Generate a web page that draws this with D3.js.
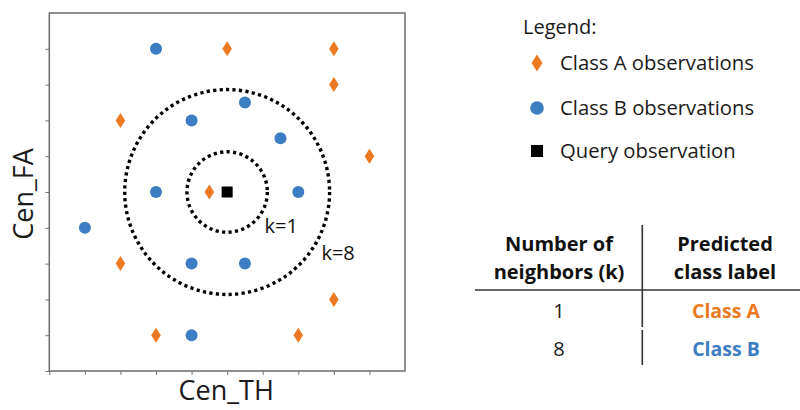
<!DOCTYPE html>
<html>
<head>
<meta charset="utf-8">
<script src="https://cdn.jsdelivr.net/npm/d3@7"></script>
<style>
  html, body { margin: 0; padding: 0; background: #fff; }
  svg { display: block; font-family: "Open Sans", sans-serif; }
</style>
</head>
<body>
<svg id="chart" width="800" height="410"></svg>
<script>
// Class A observations (orange diamonds)
const classAX = [5, 8, 8, 2, 9, 4.5, 2, 8, 3, 7];
const classAY = [9, 9, 8, 7, 6, 5, 3, 2, 1, 1];
// Class B observations (blue circles)
const classBX = [3, 5.5, 4, 6.5, 3, 7, 1, 4, 5.5, 4];
const classBY = [9, 7.5, 7, 6.5, 5, 5, 4, 3, 3, 1];
// Query observation
const queryX = [5];
const queryY = [5];
// Neighbourhood radii (data units) and their labels
const neighborK = [1, 8];
const neighborRadius = [1.13, 2.88];
const neighborLabels = ["k=1", "k=8"];
// Axis ticks
const tickValues = [0, 1, 2, 3, 4, 5, 6, 7, 8, 9];
// Legend and result table
const legendLabels = ["Class A observations", "Class B observations", "Query observation"];
const tableHeaders = [["Number of", "neighbors (k)"], ["Predicted", "class label"]];
const tableK = ["1", "8"];
const tablePredicted = ["Class A", "Class B"];

const orange = "#ec7a22";
const blue = "#3d7dc2";

const svg = d3.select("#chart");
const plot = { left: 49.3, top: 13, right: 405, bottom: 371 };

const x = d3.scaleLinear().domain([0, 10]).range([plot.left, plot.right]);
const y = d3.scaleLinear().domain([0, 10]).range([plot.bottom, plot.top]);

// Axes (ticks only, no labels)
const xAxis = d3.axisBottom(x).tickValues(tickValues).tickSize(4).tickFormat("");
const yAxis = d3.axisLeft(y).tickValues(tickValues).tickSize(4).tickFormat("");

const gx = svg.append("g").attr("transform", `translate(0,${plot.bottom})`).call(xAxis);
const gy = svg.append("g").attr("transform", `translate(${plot.left},0)`).call(yAxis);
[gx, gy].forEach(g => {
  g.select(".domain").remove();
  g.selectAll(".tick line").attr("stroke", "#777").attr("stroke-width", 1);
});

// Plot frame
svg.append("rect")
  .attr("x", plot.left).attr("y", plot.top)
  .attr("width", plot.right - plot.left).attr("height", plot.bottom - plot.top)
  .attr("fill", "none").attr("stroke", "#6b6b6b").attr("stroke-width", 1.5);

// Dotted neighbourhood circles around the query
const rUnit = x(1) - x(0);
svg.selectAll("circle.hood")
  .data(neighborRadius)
  .join("circle")
  .attr("class", "hood")
  .attr("cx", x(queryX[0]))
  .attr("cy", y(queryY[0]))
  .attr("r", d => d * rUnit)
  .attr("fill", "none")
  .attr("stroke", "#000")
  .attr("stroke-width", 3.4)
  .attr("stroke-dasharray", "3.2,3.3");

// Circle labels
const labelPos = [[6.05, 3.85], [7.65, 3.1]];
svg.selectAll("text.klabel")
  .data(neighborLabels)
  .join("text")
  .attr("class", "klabel")
  .attr("x", (d, i) => x(labelPos[i][0]))
  .attr("y", (d, i) => y(labelPos[i][1]))
  .attr("font-size", 20)
  .attr("fill", "#111")
  .text(d => d);

// Diamond path
const diamond = (w, h) => `M0,${-h / 2}L${w / 2},0L0,${h / 2}L${-w / 2},0Z`;

// Class B circles
svg.selectAll("circle.b")
  .data(classBX.map((v, i) => [v, classBY[i]]))
  .join("circle")
  .attr("class", "b")
  .attr("cx", d => x(d[0]))
  .attr("cy", d => y(d[1]))
  .attr("r", 6)
  .attr("fill", blue);

// Class A diamonds
svg.selectAll("path.a")
  .data(classAX.map((v, i) => [v, classAY[i]]))
  .join("path")
  .attr("class", "a")
  .attr("d", diamond(9.6, 15))
  .attr("transform", d => `translate(${x(d[0])},${y(d[1])})`)
  .attr("fill", orange);

// Query square
svg.selectAll("rect.q")
  .data(queryX.map((v, i) => [v, queryY[i]]))
  .join("rect")
  .attr("class", "q")
  .attr("x", d => x(d[0]) - 5.5)
  .attr("y", d => y(d[1]) - 5.5)
  .attr("width", 11).attr("height", 11)
  .attr("fill", "#000");

// Axis titles
svg.append("text")
  .attr("x", (plot.left + plot.right) / 2 - 1)
  .attr("y", 400)
  .attr("text-anchor", "middle")
  .attr("font-size", 27)
  .attr("fill", "#1a1a1a")
  .text("Cen_TH");

svg.append("text")
  .attr("transform", `translate(33,${(plot.top + plot.bottom) / 2 + 2}) rotate(-90)`)
  .attr("text-anchor", "middle")
  .attr("font-size", 27)
  .attr("fill", "#1a1a1a")
  .text("Cen_FA");

// Legend
const legend = svg.append("g");
legend.append("text")
  .attr("x", 523).attr("y", 34)
  .attr("font-size", 20).attr("fill", "#1a1a1a")
  .text("Legend:");

const legendY = [63, 108, 151];
legend.append("path")
  .attr("d", diamond(11, 17))
  .attr("transform", `translate(537,${legendY[0]})`)
  .attr("fill", orange);
legend.append("circle")
  .attr("cx", 537).attr("cy", legendY[1]).attr("r", 6.8)
  .attr("fill", blue);
legend.append("rect")
  .attr("x", 537 - 6).attr("y", legendY[2] - 6)
  .attr("width", 12).attr("height", 12)
  .attr("fill", "#000");

legend.selectAll("text.item")
  .data(legendLabels)
  .join("text")
  .attr("class", "item")
  .attr("x", 560)
  .attr("y", (d, i) => legendY[i] + 7)
  .attr("font-size", 20.3)
  .attr("fill", "#1a1a1a")
  .text(d => d);

// Result table
const table = svg.append("g");
const colX = [559, 725];

tableHeaders.forEach((lines, c) => {
  lines.forEach((line, j) => {
    table.append("text")
      .attr("x", colX[c]).attr("y", 251 + j * 28)
      .attr("text-anchor", "middle")
      .attr("font-size", 20).attr("font-weight", 700)
      .attr("fill", "#111")
      .text(line);
  });
});

table.append("line")
  .attr("x1", 475).attr("x2", 800)
  .attr("y1", 290).attr("y2", 290)
  .attr("stroke", "#333").attr("stroke-width", 1.6);
table.append("line")
  .attr("x1", 642.3).attr("x2", 642.3)
  .attr("y1", 225).attr("y2", 327)
  .attr("stroke", "#333").attr("stroke-width", 1.6);
table.append("line")
  .attr("x1", 642.3).attr("x2", 642.3)
  .attr("y1", 330).attr("y2", 365)
  .attr("stroke", "#333").attr("stroke-width", 1.6);

const rowY = [318, 356];
table.selectAll("text.k")
  .data(tableK)
  .join("text")
  .attr("class", "k")
  .attr("x", colX[0]).attr("y", (d, i) => rowY[i])
  .attr("text-anchor", "middle")
  .attr("font-size", 20).attr("fill", "#1a1a1a")
  .text(d => d);

table.selectAll("text.pred")
  .data(tablePredicted)
  .join("text")
  .attr("class", "pred")
  .attr("x", colX[1] + 1).attr("y", (d, i) => rowY[i])
  .attr("text-anchor", "middle")
  .attr("font-size", 19.5).attr("font-weight", 700)
  .attr("fill", (d, i) => i === 0 ? orange : blue)
  .text(d => d);
</script>
</body>
</html>
